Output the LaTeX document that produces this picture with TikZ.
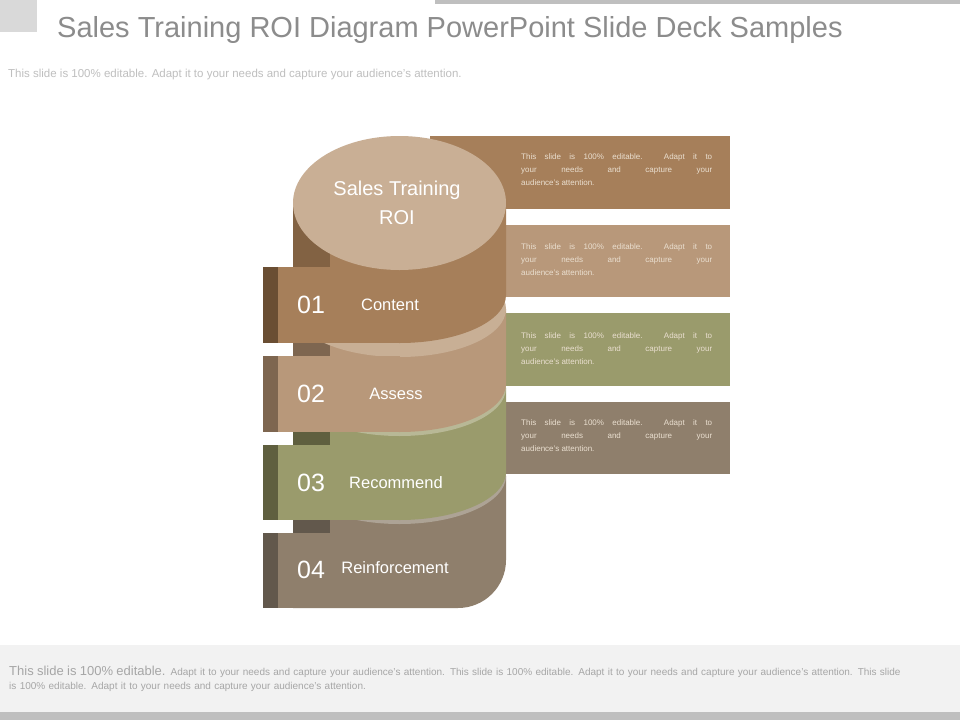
\documentclass[tikz,border=0pt]{standalone}
\usepackage{fontspec}
\setmainfont{Liberation Sans}
\usetikzlibrary{positioning}
\definecolor{cOne}{HTML}{A67F5A}
\definecolor{cTwo}{HTML}{B8987A}
\definecolor{cThree}{HTML}{9A9B6C}
\definecolor{cFour}{HTML}{8F7F6C}
\definecolor{dOne}{HTML}{6A4E33}
\definecolor{dTwo}{HTML}{7E6650}
\definecolor{dThree}{HTML}{5F5F3F}
\definecolor{dFour}{HTML}{62584C}
\definecolor{fTwo}{HTML}{C8AF95}
\definecolor{fThree}{HTML}{B8B896}
\definecolor{fFour}{HTML}{ADA395}
\definecolor{topface}{HTML}{C9AF95}
\definecolor{boxtext}{HTML}{EADFD0}
\tikzset{
  infotext/.style={text width=191pt, align=justify, inner sep=0pt, anchor=north west,
    text=boxtext, font=\fontsize{8}{13}\selectfont},
  numtext/.style={text=white, font=\fontsize{25}{25}\selectfont},
  steptext/.style={text=white, font=\fontsize{16.5}{18}\selectfont},
}
\newcommand{\infoline}{This slide is 100\% editable. Adapt it to\linebreak your needs and capture your\linebreak audience's attention.}
\begin{document}
\begin{tikzpicture}[x=1pt, y=-1pt]
  \useasboundingbox (0,0) rectangle (960,720);
  % header and footer
  \fill[white] (0,0) rectangle (960,720);
  \fill[gray!30] (0,0) rectangle (37,32);
  \fill[gray!50] (435,0) rectangle (960,4);
  \node[anchor=west, inner sep=0pt, text=gray!90, font=\fontsize{29}{30}\selectfont] (title) at (57,30) {Sales Training ROI Diagram PowerPoint Slide Deck Samples};
  \node[anchor=west, inner sep=0pt, text=gray!50, font=\fontsize{11.5}{12}\selectfont] (subtitle) at (8,75) {This slide is 100\% editable. Adapt it to your needs and capture your audience's attention.};
  \fill[gray!10] (0,645) rectangle (960,712);
  \fill[gray!50] (0,712) rectangle (960,720);
  \node[anchor=north west, inner sep=0pt, text width=900pt, align=left, text=gray!70, font=\fontsize{10}{14}\selectfont] (footer) at (9,666) {{\fontsize{13}{14}\selectfont This slide is 100\% editable.} Adapt it to your needs and capture your audience's attention. This slide is 100\% editable. Adapt it to your needs and capture your audience's attention. This slide is 100\% editable. Adapt it to your needs and capture your audience's attention.};

  % info boxes
  \fill[cOne] (430,136) rectangle (730,209);
  \fill[cTwo] (506,225) rectangle (730,297);
  \fill[cThree] (506,313) rectangle (730,386);
  \fill[cFour] (506,402) rectangle (730,474);
  \node[infotext] (info1) at (521,154) {\infoline};
  \node[infotext] (info2) at (521,243) {\infoline};
  \node[infotext] (info3) at (521,332) {\infoline};
  \node[infotext] (info4) at (521,419) {\infoline};

  % segment 4
  \fill[cFour] (293,476) -- (506,476) -- (506,560) arc[start angle=0, end angle=90, x radius=48, y radius=48] -- (293,608) -- cycle;
  \fill[dFour] (293,476) rectangle (330,533);
  \fill[fFour] (399.5,476) ellipse[x radius=106.5, y radius=48];
  \fill[cFour] (278,533) rectangle (400,608);
  \fill[dFour] (263,533) rectangle (278,608);
  % segment 3
  \fill[cThree] (293,388) -- (506,388) -- (506,472) arc[start angle=0, end angle=180, x radius=106.5, y radius=48] -- cycle;
  \fill[dThree] (293,388) rectangle (330,445);
  \fill[fThree] (399.5,388) ellipse[x radius=106.5, y radius=48];
  \fill[cThree] (278,445) rectangle (400,520);
  \fill[dThree] (263,445) rectangle (278,520);
  % segment 2
  \fill[cTwo] (293,309) -- (506,309) -- (506,384) arc[start angle=0, end angle=180, x radius=106.5, y radius=48] -- cycle;
  \fill[dTwo] (293,309) rectangle (330,356);
  \fill[fTwo] (399.5,309) ellipse[x radius=106.5, y radius=48];
  \fill[cTwo] (278,356) rectangle (400,432);
  \fill[dTwo] (263,356) rectangle (278,432);
  % segment 1 and top
  \fill[cOne] (293,203) -- (506,203) -- (506,295) arc[start angle=0, end angle=180, x radius=106.5, y radius=48] -- cycle;
  \fill[dOne!60!cOne] (293,203) rectangle (330,267);
  \fill[cOne] (278,267) rectangle (400,343);
  \fill[dOne] (263,267) rectangle (278,343);
  \fill[topface] (399.5,203) ellipse[x radius=106.5, y radius=67];
  \node[text=white, align=center, font=\fontsize{20}{29}\selectfont] (roi) at (397,203) {Sales Training\\ROI};

  % labels
  \node[numtext] (n1) at (311,305) {01};
  \node[steptext] (s1) at (390,305) {Content};
  \node[numtext] (n2) at (311,394) {02};
  \node[steptext] (s2) at (396,394) {Assess};
  \node[numtext] (n3) at (311,483) {03};
  \node[steptext] (s3) at (396,483) {Recommend};
  \node[numtext] (n4) at (311,570) {04};
  \node[steptext] (s4) at (395,568) {Reinforcement};
\end{tikzpicture}
\end{document}
